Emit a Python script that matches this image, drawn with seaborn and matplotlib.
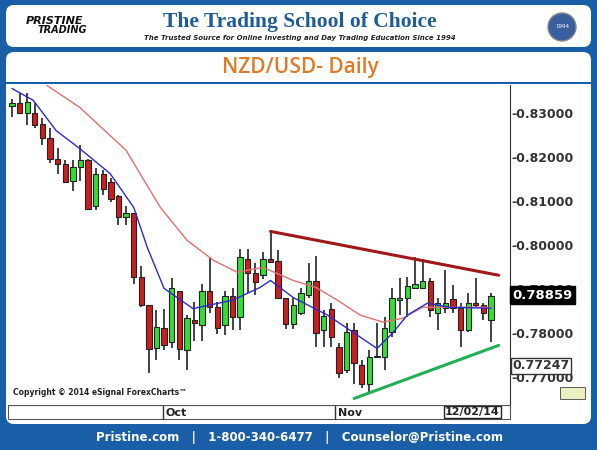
import matplotlib
matplotlib.use("Agg")
import matplotlib.pyplot as plt
from matplotlib.patches import FancyBboxPatch, Rectangle
import numpy as np
import pandas as pd
import seaborn as sns

sns.set_style("white")
plt.rcParams['font.family'] = ['DejaVu Sans']

opens = [0.8318,0.8323,0.8302,0.8302,0.8277,0.8245,0.8197,0.8184,0.8147,0.8177,0.8193,0.8090,0.8161,0.8143,0.8111,0.8065,
         0.8072,0.7928,0.7862,0.7764,0.7810,0.7778,0.7896,0.7760,0.7830,0.7817,0.7894,0.7858,0.7817,0.7883,0.7835,0.7969,
         0.7935,0.7931,0.7967,0.7963,0.7878,0.7819,0.7844,0.7885,0.7919,0.7805,0.7855,0.7767,0.7714,0.7805,0.7726,0.7684,
         0.7746,0.7744,0.7801,0.7874,0.7878,0.7903,0.7903,0.7919,0.7846,0.7856,0.7876,0.7856,0.7805,0.7867,0.7862,0.7830]
closes = [0.8325,0.8300,0.8327,0.8273,0.8245,0.8197,0.8184,0.8143,0.8179,0.8193,0.8083,0.8163,0.8127,0.8106,0.8063,0.8074,
          0.7928,0.7862,0.7762,0.7812,0.7771,0.7901,0.7762,0.7833,0.7821,0.7896,0.7858,0.7810,0.7883,0.7835,0.7972,0.7935,
          0.7915,0.7967,0.7962,0.7878,0.7819,0.7862,0.7890,0.7919,0.7799,0.7839,0.7789,0.7709,0.7801,0.7730,0.7684,0.7744,
          0.7744,0.7810,0.7880,0.7880,0.7906,0.7910,0.7917,0.7851,0.7867,0.7867,0.7856,0.7805,0.7867,0.7862,0.7844,0.7883]
highs = [0.8334,0.8346,0.8346,0.8325,0.8289,0.8266,0.8222,0.8193,0.8193,0.8227,0.8197,0.8175,0.8170,0.8152,0.8113,0.8090,
         0.8072,0.7953,0.7862,0.7851,0.7855,0.7924,0.7896,0.7840,0.7869,0.7912,0.7972,0.7869,0.7896,0.7901,0.7992,0.7992,
         0.7960,0.7985,0.8033,0.7988,0.7878,0.7878,0.7901,0.7958,0.7976,0.7851,0.7867,0.7776,0.7821,0.7821,0.7737,0.7760,
         0.7821,0.7835,0.7901,0.7924,0.7926,0.7972,0.7969,0.7924,0.7878,0.7942,0.7908,0.7867,0.7890,0.7924,0.7867,0.7890]
lows = [0.8291,0.8300,0.8273,0.8266,0.8227,0.8186,0.8163,0.8143,0.8124,0.8147,0.8083,0.8079,0.8113,0.8097,0.8045,0.8045,
        0.7912,0.7858,0.7707,0.7737,0.7760,0.7766,0.7737,0.7714,0.7782,0.7782,0.7846,0.7798,0.7794,0.7805,0.7805,0.7890,
        0.7885,0.7922,0.7960,0.7878,0.7808,0.7808,0.7840,0.7880,0.7767,0.7767,0.7767,0.7696,0.7707,0.7684,0.7673,0.7664,
        0.7742,0.7714,0.7789,0.7840,0.7835,0.7901,0.7901,0.7835,0.7805,0.7846,0.7846,0.7767,0.7801,0.7858,0.7828,0.7778]

fast_idx = [0,2.8,5.8,8.9,12.9,16,17.8,20,23.8,29,32.6,34,37,41.5,44.5,48,50,52,54.6,57.6,62,63]
fast_val = [0.8357,0.8330,0.8261,0.8220,0.8163,0.8086,0.7994,0.7901,0.7855,0.7874,0.7903,0.7919,0.7880,0.7840,0.7805,0.7764,0.7798,0.7840,0.7867,0.7858,0.7856,0.7856]
slow_idx = [4.6,8.9,15,19.5,23,26.5,29.6,33,37,40,42.8,45.8,48.8,51.4,54,57.6,62,63]
slow_val = [0.8364,0.8314,0.8216,0.8086,0.8011,0.7965,0.7938,0.7949,0.7919,0.7903,0.7874,0.7840,0.7824,0.7833,0.7858,0.7858,0.7858,0.7858]

res_idx = [34, 64]; res_val = [0.8031, 0.7931]
sup_idx = [45, 64]; sup_val = [0.7650, 0.7771]

yticks = [0.77, 0.78, 0.79, 0.80, 0.81, 0.82, 0.83]
last_price = "0.78859"
low_label = "0.77247"

W, H = 597, 450
fig = plt.figure(figsize=(W/100, H/100), dpi=100)
BLUE = '#1b5ea8'
fig.patch.set_facecolor(BLUE)

def fx(x): return x / W
def fy(y): return 1 - y / H

bg = fig.add_axes([0, 0, 1, 1]); bg.set_xlim(0, W); bg.set_ylim(H, 0); bg.axis('off')
bg.add_patch(FancyBboxPatch((6, 5), 585, 42, boxstyle="round,pad=0,rounding_size=8", fc='white', ec='none'))
bg.add_patch(FancyBboxPatch((6, 52), 585, 372, boxstyle="round,pad=0,rounding_size=8", fc='white', ec='none'))
bg.add_patch(Rectangle((6, 82), 585, 2, fc=BLUE, ec='none'))
bg.text(300, 22, "The Trading School of Choice", ha='center', va='center', fontsize=15.5,
        fontweight='bold', color='#1f5c96', family='Liberation Serif')
bg.text(300, 38, "The Trusted Source for Online Investing and Day Trading Education Since 1994",
        ha='center', va='center', fontsize=5, style='italic', fontweight='bold', color='#222222')
bg.text(55, 21, "PRISTINE", ha='center', va='center', fontsize=8, fontweight='bold', style='italic', color='#111111')
bg.text(62, 30, "TRADING", ha='center', va='center', fontsize=7, fontweight='bold', style='italic', color='#111111')
bg.add_patch(plt.Circle((562, 27), 14, fc='#3a5f9e', ec='#888888'))
bg.text(562, 27, "1994", ha='center', va='center', fontsize=4, color='white')
bg.text(300, 68, "NZD/USD- Daily", ha='center', va='center', fontsize=15, fontweight='semibold',
        color='#e07a24', family='Open Sans')
bg.text(300, 438, "Pristine.com   |   1-800-340-6477   |   Counselor@Pristine.com", ha='center', va='center',
        fontsize=8.5, fontweight='bold', color='white')

ax = fig.add_axes([fx(8), fy(405), fx(510 - 8), fy(85) - fy(405)])
ax.set_facecolor('white')
n = len(opens)
for i in range(n):
    up = closes[i] >= opens[i]
    col = '#33dd33' if up else '#cc1e1e'
    ax.vlines(i, lows[i], highs[i], color='#222222', lw=1.2, zorder=2)
    b0 = min(opens[i], closes[i]); bh = max(abs(closes[i] - opens[i]), 0.0002)
    ax.bar(i, bh, bottom=b0, width=0.7, color=col, edgecolor='#222222', lw=0.8, zorder=3)
sns.lineplot(x=slow_idx, y=slow_val, ax=ax, color='#e07070', lw=1, zorder=4)
sns.lineplot(x=fast_idx, y=fast_val, ax=ax, color='#2a2ad0', lw=1, zorder=4)
sns.lineplot(x=res_idx, y=res_val, ax=ax, color='#a01818', lw=2.2, zorder=5)
sns.lineplot(x=sup_idx, y=sup_val, ax=ax, color='#22b055', lw=2.2, zorder=5)
ax.set_xlim(-0.53, 65.5)
ax.set_ylim(0.7635, 0.8365)
ax.yaxis.tick_right()
ax.set_yticks(yticks)
ax.set_yticklabels(["-%.5f" % v for v in yticks], fontsize=9, fontweight='bold', color='#333333')
ax.tick_params(axis='y', length=0, pad=1)
ax.set_xticks([])
ax.set_xlabel(""); ax.set_ylabel("")
for s in ['top', 'left']:
    ax.spines[s].set_visible(False)
ax.spines['right'].set_color('#333333'); ax.spines['bottom'].set_color('#555555')
ax.text(0.01, 0.03, "Copyright \u00a9 2014 eSignal ForexCharts\u2122", transform=ax.transAxes, fontsize=5.5,
        fontweight='bold', color='#222222')
ax.text(1.005, (0.78859 - 0.7635) / 0.073, last_price, transform=ax.transAxes, fontsize=9.5, fontweight='bold',
        color='white', va='center', ha='left', bbox=dict(fc='black', ec='black', pad=1.5), zorder=10)
ax.text(1.005, (0.77247 - 0.7635) / 0.073, low_label, transform=ax.transAxes, fontsize=9, fontweight='bold',
        color='#333333', va='center', ha='left', bbox=dict(fc='white', ec='#333333', pad=1))

bg.add_patch(Rectangle((8, 405), 502, 14, fc='white', ec='#555555', lw=0.8))
bg.plot([163, 163], [405, 419], color='#333333', lw=1)
bg.plot([335, 335], [405, 419], color='#333333', lw=1)
bg.text(166, 413, "Oct", fontsize=8, fontweight='bold', va='center', color='#222222')
bg.text(338, 413, "Nov", fontsize=8, fontweight='bold', va='center', color='#222222')
bg.text(445, 412, "12/02/14", fontsize=8, fontweight='bold', va='center', color='#222222',
        bbox=dict(fc='white', ec='#222222', pad=1))
bg.add_patch(Rectangle((560, 387), 25, 12, fc='#e8f0c0', ec='#444444', lw=0.6))

fig.savefig("out.png", dpi=100, facecolor=fig.get_facecolor())
